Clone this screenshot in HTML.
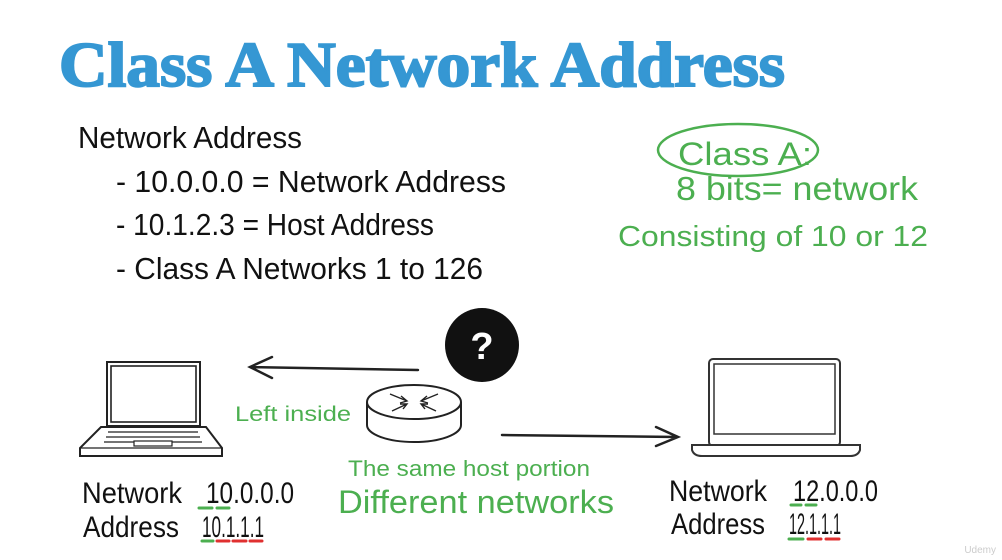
<!DOCTYPE html>
<html><head><meta charset="utf-8"><style>
html,body{margin:0;padding:0;background:#fff;}
svg{display:block}
</style></head><body>
<svg width="1002" height="560" viewBox="0 0 1002 560" xmlns="http://www.w3.org/2000/svg">
<rect width="1002" height="560" fill="#fff"/>
<text x="59" y="86" font-family="Liberation Serif, serif" font-weight="bold" font-size="64" fill="#3597d3" stroke="#3597d3" stroke-width="2" textLength="726" lengthAdjust="spacingAndGlyphs">Class A Network Address</text>
<g font-family="Liberation Sans, sans-serif" fill="#111" font-size="31">
<text x="78" y="148" textLength="224" lengthAdjust="spacingAndGlyphs">Network Address</text>
<text x="116" y="192" textLength="390" lengthAdjust="spacingAndGlyphs">-  10.0.0.0 =  Network Address</text>
<text x="116" y="235" textLength="318" lengthAdjust="spacingAndGlyphs">-  10.1.2.3 = Host Address</text>
<text x="116" y="279" textLength="367" lengthAdjust="spacingAndGlyphs">-  Class A Networks 1 to 126</text>
</g>
<g font-family="Liberation Sans, sans-serif" fill="#4caf50">
<ellipse cx="738" cy="150" rx="80" ry="26" fill="none" stroke="#4caf50" stroke-width="2.5"/>
<text x="678" y="165" font-size="32" textLength="134" lengthAdjust="spacingAndGlyphs">Class A:</text>
<text x="676" y="200" font-size="33" textLength="242" lengthAdjust="spacingAndGlyphs">8 bits= network</text>
<text x="618" y="246" font-size="29" textLength="310" lengthAdjust="spacingAndGlyphs">Consisting of 10 or 12</text>
<text x="235" y="421" font-size="21" textLength="116" lengthAdjust="spacingAndGlyphs">Left inside</text>
<text x="348" y="476" font-size="22" textLength="242" lengthAdjust="spacingAndGlyphs">The same host portion</text>
<text x="338" y="513" font-size="32" textLength="276" lengthAdjust="spacingAndGlyphs">Different networks</text>
</g>
<circle cx="482" cy="345" r="37" fill="#111"/>
<text x="482" y="359" text-anchor="middle" font-family="Liberation Sans, sans-serif" font-weight="bold" font-size="38" fill="#fff">?</text>
<g stroke="#222" stroke-width="2.5" fill="none" stroke-linecap="round">
<path d="M418 370 L250 367 M272 357 L250 367 L272 378"/>
<path d="M502 435 L678 437 M656 427 L678 437 L656 446"/>
</g>
<g stroke="#222" stroke-width="2" fill="#fff">
<path d="M367 402 L367 425 A47 17 0 0 0 461 425 L461 402"/>
<ellipse cx="414" cy="402" rx="47" ry="17"/>
<g stroke-width="1.4" fill="none">
<path d="M390 394 L407 401 M401 396 L407 401 L400 403"/>
<path d="M438 394 L421 401 M427 396 L421 401 L428 403"/>
<path d="M392 411 L407 404 M400 404 L407 404 L403 409"/>
<path d="M436 411 L421 404 M428 404 L421 404 L425 409"/>
</g>
</g>
<g stroke="#222" stroke-width="2" fill="#fff">
<path d="M107 362 L200 362 L200 426 L107 426 Z"/>
<rect x="111" y="366" width="85" height="56" fill="none" stroke-width="1.6"/>
<path d="M101 427 L206 427 L222 448 L222 456 L80 456 L80 448 Z"/>
<path d="M80 448 L222 448" stroke-width="1.2"/>
<path d="M108 432 L198 432 M106 437 L200 437 M104 442 L202 442" stroke-width="1.2"/>
<rect x="134" y="441" width="38" height="5" stroke-width="1.2"/>
</g>
<g stroke="#333" stroke-width="2" fill="#fff">
<rect x="709" y="359" width="131" height="87" rx="4"/>
<rect x="714" y="364" width="121" height="70" stroke-width="1.5"/>
<path d="M692 445 L860 445 L860 450 Q858 456 850 456 L702 456 Q694 456 692 450 Z"/>
</g>
<g font-family="Liberation Sans, sans-serif" fill="#111" font-size="30">
<text x="82" y="503" textLength="100" lengthAdjust="spacingAndGlyphs">Network</text>
<text x="83" y="537" textLength="96" lengthAdjust="spacingAndGlyphs">Address</text>
<text x="206" y="503" textLength="88" lengthAdjust="spacingAndGlyphs">10.0.0.0</text>
<text x="202" y="537" textLength="62" lengthAdjust="spacingAndGlyphs">10.1.1.1</text>
<text x="669" y="501" textLength="98" lengthAdjust="spacingAndGlyphs">Network</text>
<text x="671" y="534" textLength="94" lengthAdjust="spacingAndGlyphs">Address</text>
<text x="793" y="501" textLength="85" lengthAdjust="spacingAndGlyphs">12.0.0.0</text>
<text x="789" y="534" textLength="52" lengthAdjust="spacingAndGlyphs">12.1.1.1</text>
</g>
<g stroke-width="3" stroke-linecap="round">
<path d="M199 508 L212 508 M217 508 L229 508" stroke="#4caf50"/>
<path d="M202 541 L213 541" stroke="#4caf50"/>
<path d="M217 541 L229 541 M233 541 L246 541 M250 541 L262 541" stroke="#e03030"/>
<path d="M791 505 L801 505 M806 505 L816 505" stroke="#4caf50"/>
<path d="M789 539 L803 539" stroke="#4caf50"/>
<path d="M808 539 L821 539 M826 539 L839 539" stroke="#e03030"/>
</g>
<text x="996" y="553" text-anchor="end" font-family="Liberation Sans, sans-serif" font-size="10" fill="#ccc">Udemy</text>
</svg>
</body></html>
